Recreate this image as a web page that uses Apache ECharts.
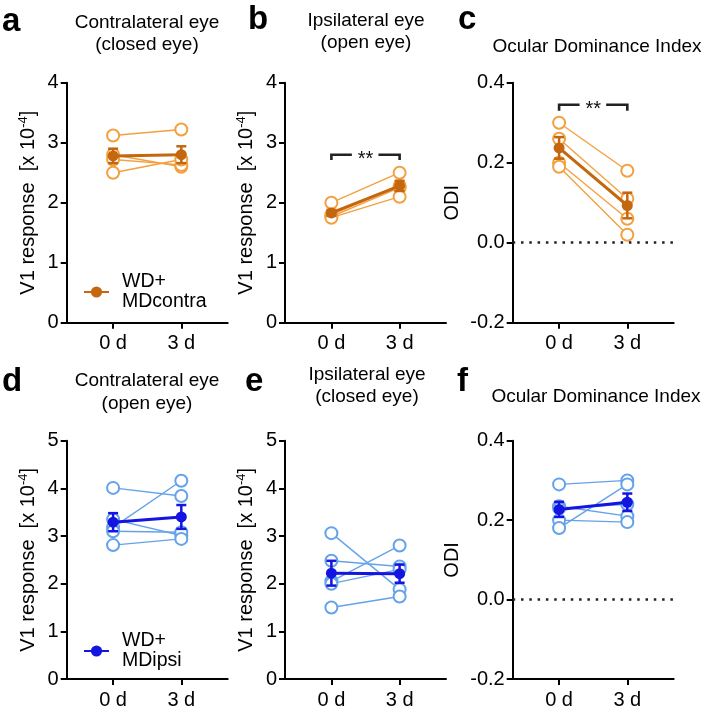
<!DOCTYPE html>
<html><head><meta charset="utf-8">
<script src="https://cdn.jsdelivr.net/npm/echarts@6/dist/echarts.min.js"></script>
<style>html,body{margin:0;padding:0;background:#fff}#c{width:703px;height:710px}</style>
</head><body><div id="c"></div>
<script>
// ---------- data ----------
const dayLabels = ['0 d', '3 d'];
const dayPos = [0, 1];

// a: contralateral (closed eye), WD+MDcontra
const aDay0 = [3.12, 2.80, 2.72, 2.50];
const aDay3 = [3.22, 2.60, 2.63, 2.72];
const aMean = [2.78, 2.80];
const aSem  = [0.12, 0.14];
// b: ipsilateral (open eye), WD+MDcontra
const bDay0 = [2.00, 1.80, 1.77, 1.75];
const bDay3 = [2.50, 2.28, 2.25, 2.10];
const bMean = [1.83, 2.28];
const bSem  = [0.05, 0.085];
// c: ODI, WD+MDcontra
const cDay0 = [0.30, 0.26, 0.20, 0.19];
const cDay3 = [0.18, 0.11, 0.06, 0.02];
const cMean = [0.237, 0.093];
const cSem  = [0.027, 0.032];
// d: contralateral (open eye), WD+MDipsi
const dDay0 = [4.01, 3.35, 3.18, 3.10, 2.81];
const dDay3 = [3.84, 3.01, 4.16, 3.08, 2.94];
const dMean = [3.29, 3.40];
const dSem  = [0.19, 0.25];
// e: ipsilateral (closed eye), WD+MDipsi
const eDay0 = [3.06, 2.48, 2.05, 2.00, 1.50];
const eDay3 = [1.88, 2.36, 2.80, 2.30, 1.73];
const eMean = [2.22, 2.21];
const eSem  = [0.26, 0.19];
// f: ODI, WD+MDipsi
const fDay0 = [0.29, 0.235, 0.23, 0.20, 0.18];
const fDay3 = [0.30, 0.21, 0.24, 0.195, 0.29];
const fMean = [0.227, 0.245];
const fSem  = [0.019, 0.022];

// significance brackets (value units)
const bBracket = {level: 2.80, drop: 0.09, label: '**'};
const cBracket = {level: 0.345, drop: 0.015, label: '**'};

const yTicksV1a = [0, 1, 2, 3, 4];
const yTicksV1d = [0, 1, 2, 3, 4, 5];
const yTicksODI = [-0.2, 0.0, 0.2, 0.4];

// ---------- style ----------
const FONT = '"Liberation Sans", Arial, Helvetica, sans-serif';
const OR_L = '#F3A040', OR_D = '#C4670F';
const BL_L = '#64A2EA', BL_D = '#1515E2';
const legendA = 'WD+\nMDcontra', legendD = 'WD+\nMDipsi';

const cols = [66.7, 285, 512.7];
const rows = [82.7, 440.7];
const gw = 161, gh = [240, 241];

const panels = [
  {d0: aDay0, d3: aDay3, m: aMean, s: aSem, ticks: yTicksV1a, light: OR_L, dark: OR_D, odi: false, legend: legendA},
  {d0: bDay0, d3: bDay3, m: bMean, s: bSem, ticks: yTicksV1a, light: OR_L, dark: OR_D, odi: false, bracket: bBracket},
  {d0: cDay0, d3: cDay3, m: cMean, s: cSem, ticks: yTicksODI, light: OR_L, dark: OR_D, odi: true, bracket: cBracket},
  {d0: dDay0, d3: dDay3, m: dMean, s: dSem, ticks: yTicksV1d, light: BL_L, dark: BL_D, odi: false, legend: legendD},
  {d0: eDay0, d3: eDay3, m: eMean, s: eSem, ticks: yTicksV1d, light: BL_L, dark: BL_D, odi: false},
  {d0: fDay0, d3: fDay3, m: fMean, s: fSem, ticks: yTicksODI, light: BL_L, dark: BL_D, odi: true}
];

const grid = [], xAxis = [], yAxis = [], series = [];
const v1Name = '{a|V1 response  [x 10}{s|-4}{a|]}';

panels.forEach((p, i) => {
  const r = Math.floor(i / 3), c = i % 3;
  grid.push({left: cols[c], top: rows[r], width: gw, height: gh[r], containLabel: false});
  xAxis.push({
    type: 'value', gridIndex: i, min: -0.68, max: 1.68,
    axisLine: {onZero: false, lineStyle: {color: '#000', width: 2}},
    axisTick: {customValues: dayPos, length: 6, lineStyle: {color: '#000', width: 2}},
    axisLabel: {customValues: dayPos, formatter: v => dayLabels[dayPos.indexOf(v)], color: '#000', fontSize: 20, fontFamily: FONT, margin: 11},
    splitLine: {show: false}
  });
  const tk = p.ticks;
  const interval = tk[1] - tk[0];
  yAxis.push({
    type: 'value', gridIndex: i, min: tk[0], max: tk[tk.length - 1], interval: interval,
    axisLine: {show: true, onZero: false, lineStyle: {color: '#000', width: 2}},
    axisTick: {show: true, length: 6, lineStyle: {color: '#000', width: 2}},
    axisLabel: {color: '#000', fontSize: 20, fontFamily: FONT, margin: 8,
      formatter: p.odi ? (v => (Math.abs(v) < 1e-9 ? 0 : v).toFixed(1)) : (v => String(v))},
    splitLine: {show: false},
    name: p.odi ? 'ODI' : v1Name,
    nameLocation: 'middle', nameRotate: 90,
    nameGap: p.odi ? 50 : 27,
    nameTextStyle: p.odi ? {color: '#000', fontSize: 20, fontFamily: FONT}
      : {color: '#000', fontFamily: FONT, rich: {
          a: {fontSize: 20, fontFamily: FONT, color: '#000'},
          s: {fontSize: 13, fontFamily: FONT, color: '#000', verticalAlign: 'top', padding: [0, 0, 10, 0]}
        }}
  });
  // individual animals
  p.d0.forEach((v, k) => {
    const ser = {
      type: 'line', xAxisIndex: i, yAxisIndex: i,
      data: [[dayPos[0], v], [dayPos[1], p.d3[k]]],
      symbol: 'emptyCircle', symbolSize: 12,
      lineStyle: {color: p.light, width: 1.4},
      itemStyle: {color: p.light, borderColor: p.light, borderWidth: 1.5},
      z: 2, silent: true, animation: false
    };
    if (k === 0 && p.odi) {
      ser.markLine = {silent: true, symbol: 'none', label: {show: false}, animation: false,
        lineStyle: {color: '#222', width: 2.5, type: [2.5, 5.8]},
        data: [{yAxis: 0}]};
    }
    series.push(ser);
  });
  // mean line
  series.push({
    type: 'line', name: p.legend || ('mean' + i), xAxisIndex: i, yAxisIndex: i,
    data: [[dayPos[0], p.m[0]], [dayPos[1], p.m[1]]],
    symbol: 'circle', symbolSize: 11,
    lineStyle: {color: p.dark, width: 3},
    itemStyle: {color: p.dark},
    z: 4, silent: true, animation: false
  });
  // error bars (SEM)
  const col = p.dark;
  series.push({
    type: 'custom', xAxisIndex: i, yAxisIndex: i, z: 5, silent: true, animation: false,
    data: [[dayPos[0], p.m[0], p.s[0]], [dayPos[1], p.m[1], p.s[1]]],
    renderItem: (params, api) => {
      const x = api.value(0), m = api.value(1), s = api.value(2);
      const t = api.coord([x, m + s]), b = api.coord([x, m - s]);
      const hw = 5, st = {stroke: col, lineWidth: 2.5};
      return {type: 'group', children: [
        {type: 'line', shape: {x1: t[0], y1: t[1], x2: b[0], y2: b[1]}, style: st},
        {type: 'line', shape: {x1: t[0] - hw, y1: t[1], x2: t[0] + hw, y2: t[1]}, style: st},
        {type: 'line', shape: {x1: b[0] - hw, y1: b[1], x2: b[0] + hw, y2: b[1]}, style: st}
      ]};
    }
  });
  // significance bracket
  if (p.bracket) {
    const br = p.bracket;
    series.push({
      type: 'custom', xAxisIndex: i, yAxisIndex: i, z: 6, silent: true, animation: false,
      data: [[dayPos[0], br.level, dayPos[1], br.level - br.drop]],
      renderItem: (params, api) => {
        const x0 = api.value(0), y = api.value(1), x1 = api.value(2), ye = api.value(3);
        const L0 = api.coord([x0, ye]), L1 = api.coord([x0, y]);
        const R0 = api.coord([x1, ye]), R1 = api.coord([x1, y]);
        const mid = (L1[0] + R1[0]) / 2, w = R1[0] - L1[0];
        const st = {stroke: '#222', lineWidth: 2.6, fill: null};
        return {type: 'group', children: [
          {type: 'polyline', shape: {points: [L0, L1, [L1[0] + w * 0.3, L1[1]]]}, style: st},
          {type: 'polyline', shape: {points: [[R1[0] - w * 0.31, R1[1]], R1, R0]}, style: st},
          {type: 'text', x: mid, y: L1[1] + 5, style: {text: br.label, fontSize: 20, fontFamily: FONT, fill: '#111', align: 'center', verticalAlign: 'middle'}}
        ]};
      }
    });
  }
});

function txt(x, y, text, size, weight, align) {
  return {type: 'text', x: x, y: y, silent: true,
    style: {text: text, fontSize: size, fontWeight: weight || 'normal', fontFamily: FONT, fill: '#000',
      align: align || 'center', verticalAlign: 'middle'}};
}
const graphic = [
  txt(2, 21.6, 'a', 33, 'bold', 'left'),
  txt(248, 20.3, 'b', 33, 'bold', 'left'),
  txt(458, 20.3, 'c', 33, 'bold', 'left'),
  txt(2, 381.6, 'd', 33, 'bold', 'left'),
  txt(245, 381.6, 'e', 33, 'bold', 'left'),
  txt(457, 381.6, 'f', 33, 'bold', 'left'),
  txt(147, 23, 'Contralateral eye', 19),
  txt(147, 45, '(closed eye)', 19),
  txt(366, 21, 'Ipsilateral eye', 19),
  txt(366, 43, '(open eye)', 19),
  txt(597, 47, 'Ocular Dominance Index', 19),
  txt(147, 381, 'Contralateral eye', 19),
  txt(147, 403.5, '(open eye)', 19),
  txt(367, 374.5, 'Ipsilateral eye', 19),
  txt(367, 396.5, '(closed eye)', 19),
  txt(596, 397, 'Ocular Dominance Index', 19)
];

const legStyle = {color: '#000', fontSize: 19.5, fontFamily: FONT, lineHeight: 20, padding: [0, 0, 0, 8]};
const legend = [
  {data: [legendA], left: 78, top: 267, itemWidth: 25, itemHeight: 14, textStyle: legStyle, selectedMode: false},
  {data: [legendD], left: 78, top: 626, itemWidth: 25, itemHeight: 14, textStyle: legStyle, selectedMode: false}
];

const chart = echarts.init(document.getElementById('c'), null, {renderer: 'canvas'});
chart.setOption({
  backgroundColor: '#fff', animation: false,
  grid: grid, xAxis: xAxis, yAxis: yAxis, series: series, graphic: graphic, legend: legend
});
</script></body></html>
